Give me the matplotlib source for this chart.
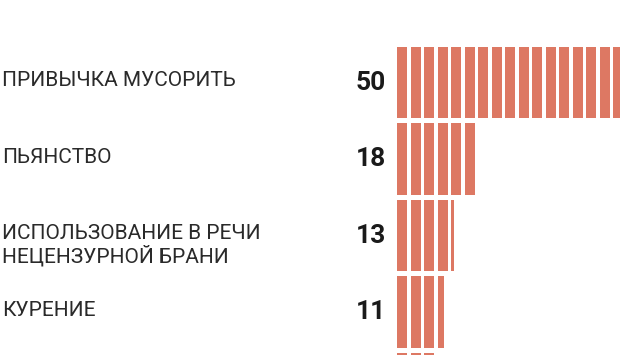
import matplotlib.pyplot as plt
from matplotlib.transforms import blended_transform_factory

# данные
categories = ["ПРИВЫЧКА МУСОРИТЬ", "ПЬЯНСТВО",
              "ИСПОЛЬЗОВАНИЕ В РЕЧИ\nНЕЦЕНЗУРНОЙ БРАНИ", "КУРЕНИЕ", ""]
values = [50, 18, 13, 11, 9]
value_labels = ["50", "18", "13", "11", ""]

seg = 3          # единиц в одном сегменте
gap = 0.7        # зазор между сегментами, в единицах
bar_color = "#DD7863"

fig = plt.figure(figsize=(6.3, 3.55), dpi=100)
ax = fig.add_axes([397 / 630, 0, 1 - 397 / 630, 1])

for i, v in enumerate(values):
    lefts, widths = [], []
    start = 0
    while start < v:
        w = min(seg, v - start)
        lefts.append(start)
        # неполный сегмент — пропорционально
        widths.append(w * (seg - gap) / seg)
        start += seg
    ax.barh([i] * len(lefts), widths, left=lefts, height=0.935,
            color=bar_color, edgecolor="none")

ax.set_xlim(0, (630 - 397) / 4.5)
ax.set_ylim(3.56, -1.078)
ax.axis("off")

tr = blended_transform_factory(fig.transFigure, ax.transData)
for i, (c, lab) in enumerate(zip(categories, value_labels)):
    ax.text(2 / 630, i - 0.15, c, transform=tr, ha="left", va="top",
            fontsize=15, family="Roboto", color="#2a2a2a",
            linespacing=1.1)
    ax.text(386 / 630, i, lab, transform=tr, ha="right", va="center",
            fontsize=19, family="Roboto", fontweight="bold", color="#1a1a1a")

fig.savefig("out.png", dpi=100)
